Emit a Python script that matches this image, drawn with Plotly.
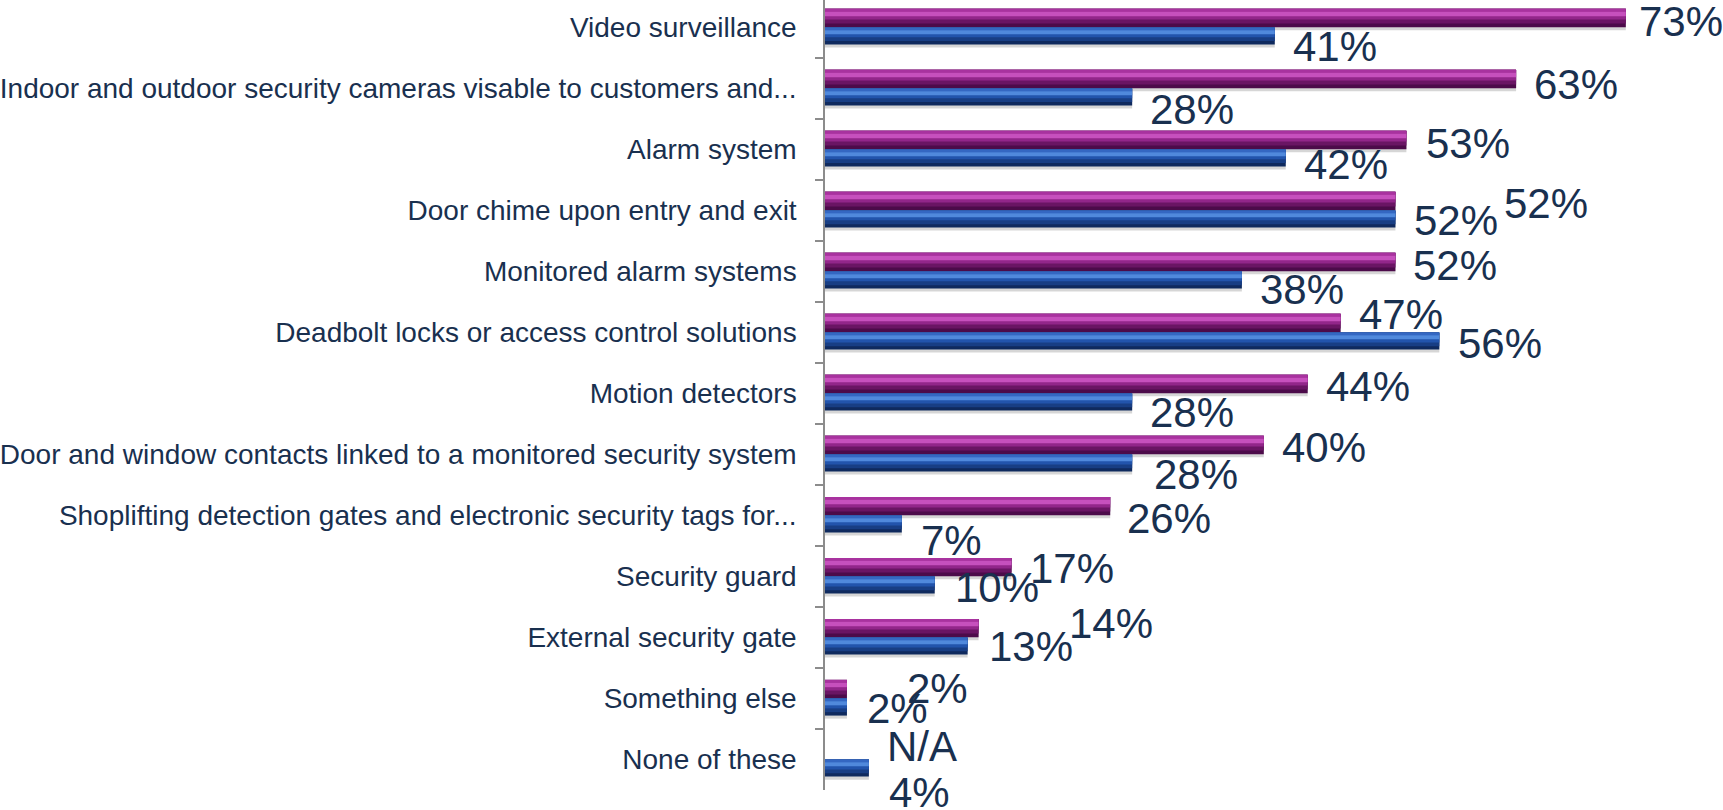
import plotly.graph_objects as go

# Survey results: share of respondents using each security measure
categories = [
    "Video surveillance",
    "Indoor and outdoor security cameras visable to customers and...",
    "Alarm system",
    "Door chime upon entry and exit",
    "Monitored alarm systems",
    "Deadbolt locks or access control solutions",
    "Motion detectors",
    "Door and window contacts linked to a monitored security system",
    "Shoplifting detection gates and electronic security tags for...",
    "Security guard",
    "External security gate",
    "Something else",
    "None of these",
]
purple_values = [73, 63, 53, 52, 52, 47, 44, 40, 26, 17, 14, 2, None]
blue_values = [41, 28, 42, 52, 38, 56, 28, 28, 7, 10, 13, 2, 4]

# label placement (pixels): horizontal gap after bar end, vertical offset from category centre (down = +)
purple_label_dx = [11, 16, 18, 107, 16, 16, 16, 16, 15, 17, 88, 58, 60]
purple_label_dy = [-6, -4, -6, -7, -6, -18, -7, -7, 3, -8, -14, -10, -13]
blue_label_dx = [16, 16, 16, 17, 16, 17, 16, 20, 17, 18, 19, 18, 18]
blue_label_dy = [19, 21, 15, 10, 18, 11, 19, 20, 25, 11, 9, 10, 33]

TEXT = "#19304F"
FONT = "Liberation Sans"

fig = go.Figure()


def bevel_bar(values, top, thick, layers, shadow=True):
    """Draw one series as stacked horizontal strips to give a bevelled look."""
    xs = [v if v is not None else 0 for v in values]
    if shadow:
        fig.add_trace(go.Bar(
            y=categories, x=xs, orientation="h",
            offset=top + 0.05, width=thick,
            marker=dict(color="rgba(0,0,0,0.16)", line=dict(width=0)),
            hoverinfo="skip", showlegend=False,
        ))
    for (f0, f1, color) in layers:
        fig.add_trace(go.Bar(
            y=categories, x=xs, orientation="h",
            offset=top + f0 * thick, width=(f1 - f0) * thick,
            marker=dict(color=color, line=dict(width=0)),
            hoverinfo="skip", showlegend=False,
        ))


purple_layers = [
    (0.00, 1.00, "#4C0B4A"),
    (0.00, 0.80, "#6A1564"),
    (0.00, 0.58, "#92268A"),
    (0.00, 0.16, "#A8329F"),
    (0.16, 0.40, "#C650BD"),
]
blue_layers = [
    (0.00, 1.00, "#0F2A5E"),
    (0.00, 0.80, "#183E84"),
    (0.00, 0.58, "#2254AC"),
    (0.00, 0.16, "#3467C2"),
    (0.16, 0.40, "#5089DC"),
]

bevel_bar(purple_values, -0.305, 0.30, purple_layers)
bevel_bar(blue_values, 0.0, 0.28, blue_layers)

annotations = []
for i, cat in enumerate(categories):
    pv = purple_values[i]
    annotations.append(dict(
        x=pv if pv is not None else 0, y=cat, xref="x", yref="y",
        text=f"{pv}%" if pv is not None else "N/A",
        showarrow=False, xanchor="left", yanchor="middle",
        xshift=purple_label_dx[i], yshift=-purple_label_dy[i],
        font=dict(family=FONT, size=42, color=TEXT),
    ))
    bv = blue_values[i]
    annotations.append(dict(
        x=bv, y=cat, xref="x", yref="y",
        text=f"{bv}%",
        showarrow=False, xanchor="left", yanchor="middle",
        xshift=blue_label_dx[i], yshift=-blue_label_dy[i],
        font=dict(family=FONT, size=42, color=TEXT),
    ))

fig.update_layout(
    width=1723, height=810,
    margin=dict(l=825, r=0, t=0, b=20, pad=0),
    paper_bgcolor="white", plot_bgcolor="white",
    barmode="overlay",
    showlegend=False,
    annotations=annotations,
    xaxis=dict(range=[0, 81.86], visible=False, fixedrange=True),
    yaxis=dict(
        type="category", categoryorder="array", categoryarray=categories,
        range=[12.5, -0.45],
        showline=True, linecolor="#8C8C8C", linewidth=1.5,
        ticks="outside", tickson="boundaries", ticklen=8, tickcolor="#8C8C8C", tickwidth=1.5,
        showgrid=False, zeroline=False,
        tickfont=dict(family=FONT, size=28, color=TEXT),
        ticklabelstandoff=21,
    ),
)

fig.write_html("out.html")
